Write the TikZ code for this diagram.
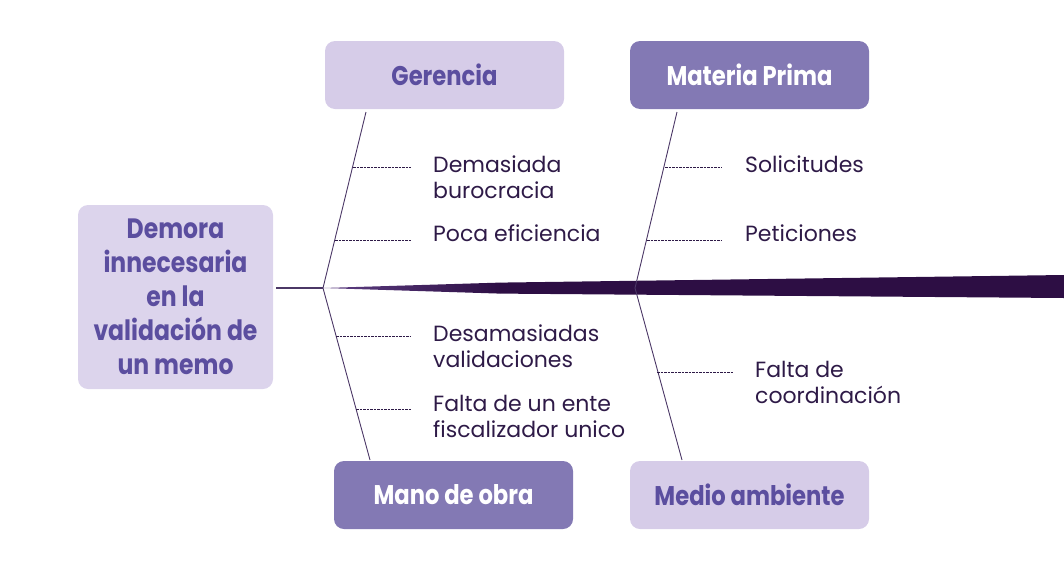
\documentclass[tikz,border=0pt]{standalone}
\usepackage{fontspec}
\setmainfont{Poppins}
\newfontfamily\headfont{Poppins}[FakeStretch=0.84]
\definecolor{lightbox}{HTML}{D6CCE8}
\definecolor{lightbox2}{HTML}{DCD4EC}
\definecolor{darkbox}{HTML}{8379B4}
\definecolor{headtxt}{HTML}{5B4E9F}
\definecolor{bone}{HTML}{4B3766}
\definecolor{spine}{HTML}{2D0E44}
\definecolor{spinelight}{HTML}{5E3F84}
\definecolor{lbltxt}{HTML}{2E1A47}
\tikzset{
  catbox/.style={rounded corners=10pt, minimum width=239pt, minimum height=68pt, inner sep=0pt, font=\headfont\bfseries\fontsize{27}{30}\selectfont},
  lightcat/.style={catbox, fill=lightbox, text=headtxt},
  darkcat/.style={catbox, fill=darkbox, text=white},
  bonestyle/.style={draw=bone, line width=0.9pt},
  sub/.style={draw=lbltxt, line width=0.6pt, dash pattern=on 2.5pt off 1pt},
  lbl/.style={anchor=west, inner sep=0pt, text=lbltxt, align=left, font=\fontsize{22}{26}\selectfont},
}
\begin{document}
\begin{tikzpicture}[x=1pt,y=-1pt]
\useasboundingbox (0,0) rectangle (1064,560);
% head
\node[rounded corners=10pt, fill=lightbox2, minimum width=195pt, minimum height=184pt, inner sep=0pt, text=headtxt, align=center,
  font=\headfont\bfseries\fontsize{28}{34}\selectfont] (head) at (175.5,297) {Demora\\innecesaria\\en la\\validación de\\un memo};
% category boxes
\node[lightcat] (ger) at (444.5,75) {\raisebox{-2pt}{Gerencia}};
\node[darkcat] (mat) at (749.5,75) {\raisebox{-2pt}{Materia Prima}};
\node[darkcat] (man) at (453.5,495) {\raisebox{-2pt}{Mano de obra}};
\node[lightcat] (med) at (749.5,495) {\raisebox{-2pt}{Medio ambiente}};
% spine
\coordinate (j1) at (323,288);
\coordinate (j2) at (635,288);
\coordinate (tailtop) at (1064,275);
\coordinate (tailbot) at (1064,298);
\coordinate (mid1) at (500,282.6);
\coordinate (mid2) at (500,293.6);
\fill[spine] (mid1) -- (tailtop) -- (tailbot) -- (mid2) -- cycle;
\shade[left color=spinelight, right color=spine] (j1) -- (mid1) -- (mid2) -- cycle;
\draw[bone, line width=1.1pt] (head.east |- j1) ++(3,0) -- (j1);
% bones
\coordinate (gtop) at (366,112);
\coordinate (mtop) at (677,112);
\coordinate (mbot) at (370,460);
\coordinate (ebot) at (682,460);
\draw[bonestyle] (gtop) -- (j1) -- (mbot);
\draw[bonestyle] (mtop) -- (j2) -- (ebot);
% labels
\node[lbl] (l1) at (433,177) {Demasiada\\burocracia};
\node[lbl] (l2) at (433,233) {Poca eficiencia};
\node[lbl] (l3) at (745,164) {Solicitudes};
\node[lbl] (l4) at (745,233) {Peticiones};
\node[lbl] (l5) at (433,346.5) {Desamasiadas\\validaciones};
\node[lbl] (l6) at (433,416) {Falta de un ente\\fiscalizador unico};
\node[lbl] (l7) at (755,382) {Falta de\\coordinación};
% sub causes
\coordinate (s1) at (353,167);
\coordinate (s2) at (335,240);
\coordinate (s3) at (665,167);
\coordinate (s4) at (647,240);
\coordinate (s5) at (336,336);
\coordinate (s6) at (356,409);
\coordinate (s7) at (657,372);
\draw[sub] (s1) -- (s1 -| 411,0);
\draw[sub] (s2) -- (s2 -| 411,0);
\draw[sub] (s3) -- (s3 -| 722,0);
\draw[sub] (s4) -- (s4 -| 722,0);
\draw[sub] (s5) -- (s5 -| 411,0);
\draw[sub] (s6) -- (s6 -| 411,0);
\draw[sub] (s7) -- (s7 -| 733,0);
\end{tikzpicture}
\end{document}
